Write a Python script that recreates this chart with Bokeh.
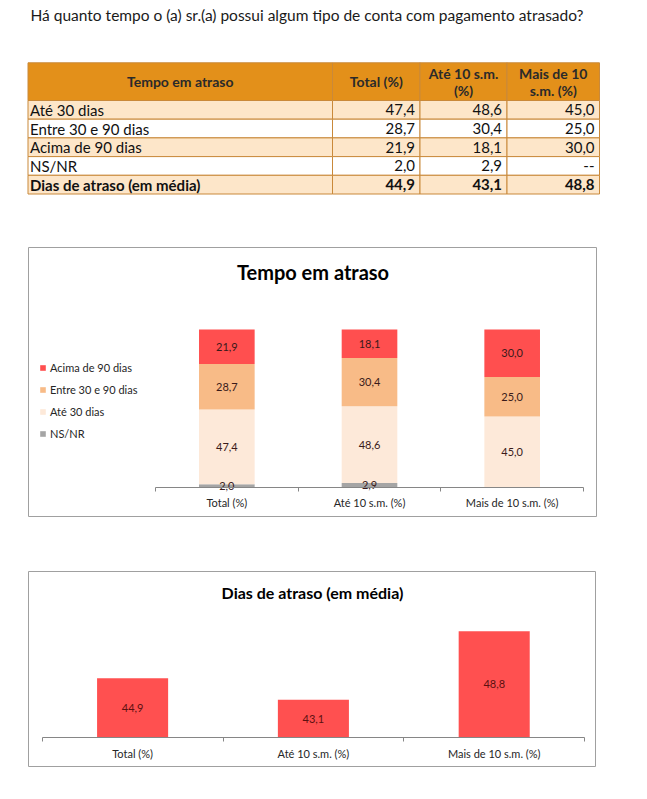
from bokeh.plotting import figure
from bokeh.models import Range1d, LinearAxis, FixedTicker, Legend, LegendItem, Label, Spacer
from bokeh.layouts import column, row
from bokeh.embed import file_html
from bokeh.resources import INLINE
from bokeh.core.properties import value

FONT = "Lato"

# ---------------- data ----------------
question = "Há quanto tempo o (a) sr.(a) possui algum tipo de conta com pagamento atrasado?"
header_lines = [["Tempo em atraso"], ["Total (%)"], ["Até 10 s.m.", "(%)"], ["Mais de 10", "s.m. (%)"]]
row_labels = ["Até 30 dias", "Entre 30 e 90 dias", "Acima de 90 dias", "NS/NR", "Dias de atraso (em média)"]
categories = ["Total (%)", "Até 10 s.m. (%)", "Mais de 10 s.m. (%)"]
ate_30 = [47.4, 48.6, 45.0]
entre_30_90 = [28.7, 30.4, 25.0]
acima_90 = [21.9, 18.1, 30.0]
ns_nr = [2.0, 2.9, None]
dias_media = [44.9, 43.1, 48.8]
series_names = ["NS/NR", "Até 30 dias", "Entre 30 e 90 dias", "Acima de 90 dias"]
chart1_title = "Tempo em atraso"
chart2_title = "Dias de atraso (em média)"
dias_axis_min = 40

# ---------------- styles ----------------
C_HEADER = "#E3901A"
C_ROW = "#FDE6C9"
C_TBL_LINE = "#C9893A"
C_ACIMA = "#FF4F4F"
C_ENTRE = "#F8BB87"
C_ATE30 = "#FDE9D9"
C_NSNR = "#A5A5A5"
C_AXIS = "#868686"
C_BOX = "#A0A0A0"


def fmt(v):
    return "--" if v is None else f"{v:.1f}".replace(".", ",")


# ---------------- figure A: question + table ----------------
WA, HA = 631, 208
pA = figure(width=WA, height=HA, x_range=Range1d(0, WA), y_range=Range1d(HA, 0),
            x_axis_type=None, y_axis_type=None, toolbar_location=None,
            output_backend="svg", min_border=0, outline_line_color=None)
pA.xgrid.visible = False
pA.ygrid.visible = False

pA.text(x=[22], y=[14.5], text=[question], text_font=value(FONT), text_font_size="15.5px",
        text_baseline="middle", text_align="left", text_color="#1a1a1a")

col_edges = [19.5, 324, 411.5, 498.5, 591]
head_top, head_bot, row_h = 62.3, 100.0, 18.7
row_edges = [head_bot + i * row_h for i in range(len(row_labels) + 1)]

# header cells
pA.quad(left=col_edges[:-1], right=col_edges[1:], top=[head_top] * 4, bottom=[head_bot] * 4,
        fill_color=C_HEADER, line_color=C_TBL_LINE, line_width=1)
for j, lines in enumerate(header_lines):
    cx = (col_edges[j] + col_edges[j + 1]) / 2
    n = len(lines)
    mid = (head_top + head_bot) / 2
    for k, t in enumerate(lines):
        y = mid + (k - (n - 1) / 2) * 17
        pA.text(x=[cx], y=[y], text=[t], text_font=value(FONT), text_font_size="14px",
                text_font_style="bold", text_align="center", text_baseline="middle",
                text_color="#2a2a2a")

# body
cols_vals = [[ate_30[j], entre_30_90[j], acima_90[j], ns_nr[j], dias_media[j]] for j in range(3)]
for i, lab in enumerate(row_labels):
    top, bot = row_edges[i], row_edges[i + 1]
    fill = C_ROW if i % 2 == 0 else "#FFFFFF"
    pA.quad(left=col_edges[:-1], right=col_edges[1:], top=[top] * 4, bottom=[bot] * 4,
            fill_color=fill, line_color=C_TBL_LINE, line_width=1)
    style = "bold" if i == len(row_labels) - 1 else "normal"
    ym = (top + bot) / 2
    pA.text(x=[col_edges[0] + 2], y=[ym], text=[lab], text_font=value(FONT), text_font_size="15px",
            text_font_style=style, text_align="left", text_baseline="middle", text_color="#111111")
    for j in range(3):
        pA.text(x=[col_edges[j + 2] - 5], y=[ym], text=[fmt(cols_vals[j][i])], text_font=value(FONT),
                text_font_size="15px", text_font_style=style, text_align="right",
                text_baseline="middle", text_color="#111111")

# ---------------- figure B: stacked bars ----------------
WB, HB = 569, 270
ux = 142.67          # px per category
ax_left_px = 127     # px from box left to axis start
uy = 1.58            # px per percent
base_px = 30         # px from box bottom to baseline
xb0 = 0.5 - ax_left_px / ux
xb1 = 0.5 + (WB - ax_left_px) / ux
yb0 = -base_px / uy
yb1 = (HB - base_px) / uy

pB = figure(width=WB, height=HB, x_range=Range1d(xb0, xb1), y_range=Range1d(yb0, yb1),
            x_axis_type=None, y_axis_type=None, toolbar_location=None, output_backend="svg",
            min_border=0, outline_line_color=C_BOX, outline_line_width=1)
pB.xgrid.visible = False
pB.ygrid.visible = False

xs = [i + 1 for i in range(len(categories))]
stack = [ns_nr, ate_30, entre_30_90, acima_90]
colors = [C_NSNR, C_ATE30, C_ENTRE, C_ACIMA]
bottoms = [0.0] * len(categories)
renderers = []
lab_x, lab_y, lab_t = [], [], []
for s, c in zip(stack, colors):
    vals = [0.0 if v is None else v for v in s]
    tops = [b + v for b, v in zip(bottoms, vals)]
    r = pB.vbar(x=xs, bottom=bottoms, top=tops, width=0.39, fill_color=c, line_color=None)
    renderers.append(r)
    for k, v in enumerate(s):
        if v is not None:
            lab_x.append(xs[k])
            lab_y.append((bottoms[k] + tops[k]) / 2)
            lab_t.append(fmt(v))
    bottoms = tops
pB.text(x=lab_x, y=lab_y, text=lab_t, text_font=value(FONT), text_font_size="11px",
        text_align="center", text_baseline="middle", text_color="#3a1a1a")

tickB = LinearAxis(ticker=FixedTicker(ticks=[x - 0.5 for x in xs] + [xs[-1] + 0.5]),
                   fixed_location=0, bounds=(0.5, len(xs) + 0.5),
                   axis_line_color=C_AXIS, major_tick_line_color=C_AXIS, major_tick_in=0,
                   major_tick_out=4, minor_tick_line_color=None, major_label_text_color=None)
labB = LinearAxis(ticker=FixedTicker(ticks=xs), fixed_location=0,
                  major_label_overrides={x: c for x, c in zip(xs, categories)},
                  axis_line_color=None, major_tick_line_color=None, minor_tick_line_color=None,
                  major_tick_in=0, major_tick_out=0, major_label_standoff=8,
                  major_label_text_font=FONT, major_label_text_font_size="11px",
                  major_label_text_color="#262626")
pB.add_layout(tickB, "below")
pB.add_layout(labB, "below")

pB.add_layout(Label(x=(xb0 + xb1) / 2, y=yb1 - 24 / uy, text=chart1_title, text_font=FONT,
                    text_font_size="20px", text_font_style="bold", text_align="center",
                    text_baseline="middle", text_color="#000000"))

items = [LegendItem(label=series_names[k], renderers=[renderers[k]]) for k in (3, 2, 1, 0)]
legB = Legend(items=items, location=(11, 77), background_fill_alpha=0, border_line_color=None,
              padding=0, margin=0, spacing=8, glyph_width=7, glyph_height=7, label_standoff=4,
              label_text_font=FONT, label_text_font_size="11px", label_height=14,
              label_text_color="#262626")
pB.add_layout(legB)

# ---------------- figure C: average days ----------------
WC, HC = 568, 196
uxc = 180.8
axc_left = 13.7
uyc = 12.05
basec = 30.3
xc0 = 0.5 - axc_left / uxc
xc1 = 0.5 + (WC - axc_left) / uxc
yc0 = dias_axis_min - basec / uyc
yc1 = dias_axis_min + (HC - basec) / uyc

pC = figure(width=WC, height=HC, x_range=Range1d(xc0, xc1), y_range=Range1d(yc0, yc1),
            x_axis_type=None, y_axis_type=None, toolbar_location=None, output_backend="svg",
            min_border=0, outline_line_color=C_BOX, outline_line_width=1)
pC.xgrid.visible = False
pC.ygrid.visible = False

pC.vbar(x=xs, bottom=dias_axis_min, top=dias_media, width=0.393, fill_color="#FF5050", line_color=None)
pC.text(x=xs, y=[(v + dias_axis_min) / 2 for v in dias_media], text=[fmt(v) for v in dias_media],
        text_font=value(FONT), text_font_size="11px", text_align="center", text_baseline="middle",
        text_color="#5c1010")

tickC = LinearAxis(ticker=FixedTicker(ticks=[x - 0.5 for x in xs] + [xs[-1] + 0.5]),
                   fixed_location=dias_axis_min, bounds=(0.5, len(xs) + 0.5),
                   axis_line_color=C_AXIS, major_tick_line_color=C_AXIS, major_tick_in=0,
                   major_tick_out=4, minor_tick_line_color=None, major_label_text_color=None)
labC = LinearAxis(ticker=FixedTicker(ticks=xs), fixed_location=dias_axis_min,
                  major_label_overrides={x: c for x, c in zip(xs, categories)},
                  axis_line_color=None, major_tick_line_color=None, minor_tick_line_color=None,
                  major_tick_in=0, major_tick_out=0, major_label_standoff=10,
                  major_label_text_font=FONT, major_label_text_font_size="11px",
                  major_label_text_color="#262626")
pC.add_layout(tickC, "below")
pC.add_layout(labC, "below")
pC.add_layout(Label(x=(xc0 + xc1) / 2, y=yc1 - 21 / uyc, text=chart2_title, text_font=FONT,
                    text_font_size="16px", text_font_style="bold", text_align="center",
                    text_baseline="middle", text_color="#000000"))

inner = column(pA,
               Spacer(height=39),
               row(Spacer(width=20), pB),
               Spacer(height=54),
               row(Spacer(width=20), pC))
layout = row(Spacer(width=8), inner)

open("out.html", "w").write(file_html(layout, INLINE))
